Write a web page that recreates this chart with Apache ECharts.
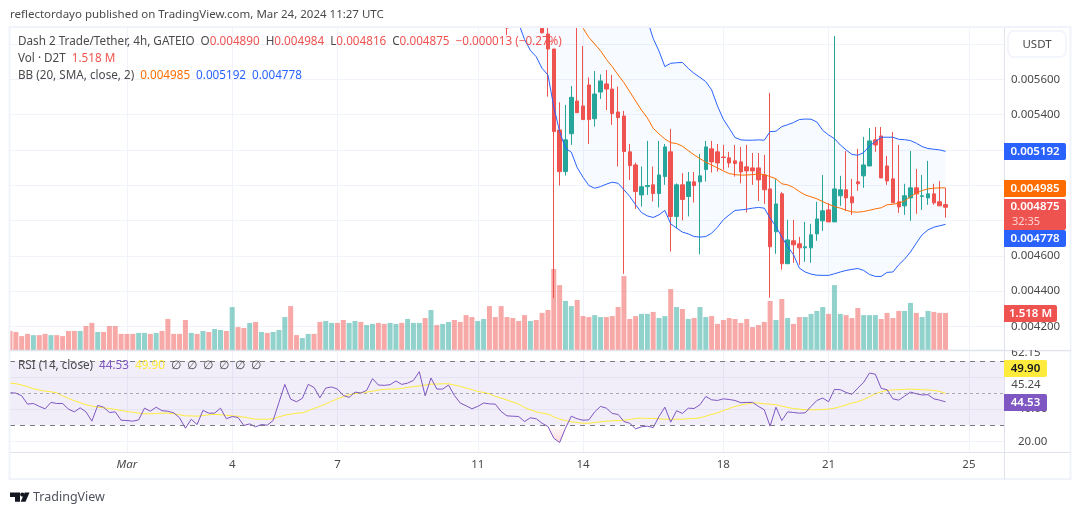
<!DOCTYPE html>
<html>
<head>
<meta charset="utf-8">
<style>
html,body{margin:0;padding:0;background:#fff;}
#chart{width:1080px;height:515px;}
</style>
<script src="https://cdn.jsdelivr.net/npm/echarts@6/dist/echarts.min.js"></script>
</head>
<body>
<div id="chart"></div>
<script>
// 4h bars, index 0 = Feb 26 16:00. prices are in 1e-6 USDT, volume in millions
var barCount = 171;
var tickIndex = [20, 38, 56, 80, 98, 122, 140, 164];
var tickLabels = ['{m|Mar}', '4', '7', '11', '14', '18', '21', '25'];
var priceTicks = [5800, 5600, 5400, 5200, 5000, 4800, 4600, 4400, 4200];
var priceLabels = [5600, 5400, 4600, 4400, 4200];
var rsiTicks = [60, 40, 20];
var rsiLevels = [70, 50, 30];

// candles that are inside the visible price range start at bar 85, highs cut at the pane top
var candleStart = 85;
var open = [
  5892, null, null, null, null, null, 5890, 5857, 5772, 5313,
  5077, 5292, 5477, 5449, 5568, 5377, 5528, 5574, 5545, 5415,
  5392, 5189, 5115, 4945, 4992, 5002, 4953, 5049, 5189, 4823,
  5002, 4936, 5019, 5019, 5089, 5206, 5189, 5160, 5155, 5138,
  5132, 5104, 5098, 5098, 5058, 4979, 4736, 4951, 4555, 4685,
  4668, 4645, 4645, 4724, 4798, 4860, 4792, 4940, 4974, 4934,
  5019, 5053, 5109, 5257, 5279, 5109, 5036, 4906, 4883, 4928,
  4985, 4936, 4928, 4951, 4906, 4890
];
var close = [
  5892, null, null, null, null, null, 5864, 5772, 5304, 5077,
  5257, 5498, 5411, 5372, 5372, 5517, 5591, 5545, 5406, 5383,
  5191, 5111, 4964, 4991, 4998, 4953, 5058, 5217, 4823, 5002,
  4919, 5019, 4998, 5053, 5217, 5132, 5126, 5157, 5126, 5123,
  5075, 5081, 5081, 5030, 4974, 4651, 4894, 4555, 4690, 4662,
  4645, 4651, 4719, 4809, 4855, 4792, 4979, 4974, 4928, 4900,
  5008, 5115, 5251, 5228, 5041, 5024, 4900, 4877, 4940, 4985,
  4951, 4940, 4951, 4900, 4883, 4875
];
var low = [
  5851, null, null, null, null, null, 5860, 5502, 4360, 4998,
  5055, 5228, 5411, 5372, 5234, 5332, 5489, 5426, 5342, 5106,
  4498, 5030, 4866, 4879, 4945, 4908, 4874, 5002, 4624, 4755,
  4800, 4823, 4902, 4608, 5021, 5072, 5077, 5087, 5100, 5049,
  5011, 4845, 5002, 4911, 4894, 4362, 4611, 4521, 4555, 4560,
  4549, 4566, 4560, 4685, 4741, 4792, 4792, 4883, 4855, 4832,
  4968, 4985, 5109, 5189, 5041, 5002, 4900, 4843, 4832, 4798,
  4838, 4860, 4889, 4889, 4883, 4816
];
var high = [
  5892, null, null, null, null, null, 5892, 5892, 5772, 5470,
  5455, 5562, 5892, 5789, 5611, 5647, 5628, 5653, 5625, 5559,
  5421, 5234, 5128, 5106, 5251, 5106, 5251, 5234, 5319, 5010,
  5068, 5075, 5075, 5177, 5251, 5251, 5234, 5228, 5189, 5228,
  5217, 5228, 5183, 5183, 5172, 5523, 5034, 4962, 4804, 4804,
  4707, 4792, 4781, 4906, 5058, 4898, 5845, 5053, 5194, 5036,
  5206, 5274, 5324, 5330, 5330, 5166, 5302, 5228, 5008, 5194,
  5092, 5058, 5138, 5008, 5024, 4984
];

// bollinger bands, first values are above the visible range
var bandStart = 87;
var bbUpper = [
  6620, 6590, 6570, 6530, 6510, 6480, 6460, 6430, 6400, 6370, 6350,
  6310, 6280, 6250, 6220, 6190, 6150, 6120, 6090, 6060, 6020, 5980, 5936,
  5832, 5760, 5672, 5691, 5694, 5696, 5662, 5634, 5611, 5587,
  5540, 5449, 5374, 5323, 5270, 5257, 5255, 5255, 5257, 5255,
  5304, 5306, 5332, 5343, 5355, 5372, 5375, 5374, 5358, 5311,
  5285, 5264, 5228, 5200, 5174, 5170, 5185, 5223, 5247, 5272,
  5272, 5272, 5260, 5258, 5253, 5238, 5219, 5208, 5204, 5200, 5192
];
var bbLower = [
  5917, 5826, 5764, 5728, 5662, 5625, 5445, 5304, 5209, 5187,
  5100, 5045, 4998, 4983, 4992, 5006, 5017, 5011, 4974, 4936,
  4889, 4845, 4826, 4817, 4832, 4857, 4781, 4757, 4734, 4724,
  4709, 4706, 4709, 4728, 4762, 4804, 4832, 4857, 4860, 4864,
  4870, 4874, 4870, 4813, 4766, 4706, 4653, 4606, 4530, 4508,
  4496, 4490, 4489, 4489, 4498, 4508, 4517, 4523, 4528, 4517,
  4494, 4483, 4483, 4506, 4508, 4549, 4581, 4621, 4672, 4719,
  4747, 4762, 4770, 4778
];
var basisStart = 98;
var bbBasis = [
  5890, 5838, 5800, 5762, 5713, 5672, 5625, 5581, 5530, 5477,
  5426, 5381, 5323, 5291, 5262, 5241, 5236, 5221, 5196, 5172,
  5151, 5130, 5115, 5098, 5081, 5066, 5060, 5057, 5058, 5060,
  5064, 5060, 5049, 5036, 5008, 5002, 4987, 4964, 4945, 4934,
  4923, 4907, 4892, 4879, 4870, 4858, 4849, 4847, 4851, 4858,
  4866, 4872, 4889, 4892, 4898, 4911, 4936, 4955, 4970, 4979,
  4983, 4985, 4985
];

var volume = [
  0.78, 0.74, 0.57, 0.66, 0.61, 0.61, 0.66, 0.61, 0.61, 0.57,
  0.78, 0.78, 0.78, 0.98, 1.11, 0.74, 0.74, 0.98, 0.98, 0.66,
  0.66, 0.66, 0.70, 0.70, 0.66, 0.70, 0.78, 1.27, 0.66, 0.66,
  1.23, 0.70, 0.66, 0.78, 0.74, 0.86, 0.82, 0.78, 1.76, 0.94,
  0.90, 1.11, 1.15, 0.74, 0.70, 0.74, 0.82, 1.35, 1.80, 0.61,
  0.49, 0.66, 0.66, 1.15, 1.19, 1.11, 1.11, 1.23, 1.11, 1.19,
  1.15, 1.02, 1.07, 1.11, 1.07, 1.11, 1.07, 1.11, 1.27, 1.11,
  1.11, 1.31, 1.64, 1.02, 1.07, 1.15, 1.23, 1.15, 1.43, 1.35,
  1.19, 1.27, 1.80, 1.35, 1.80, 1.35, 1.31, 1.19, 1.43, 1.19,
  1.23, 1.52, 1.64, 3.32, 2.66, 2.01, 1.80, 2.05, 1.39, 1.35,
  1.43, 1.35, 1.35, 1.39, 1.76, 3.03, 1.27, 1.39, 1.48, 1.48,
  1.56, 1.31, 1.39, 2.50, 1.76, 1.68, 1.27, 1.31, 1.76, 1.35,
  1.39, 1.07, 1.23, 1.31, 1.27, 1.11, 1.27, 0.94, 1.02, 1.15,
  2.01, 1.23, 2.09, 1.31, 1.07, 1.35, 1.35, 1.48, 1.60, 1.76,
  1.48, 2.66, 1.48, 1.43, 1.31, 1.72, 1.43, 1.43, 1.43, 1.27,
  1.52, 1.31, 1.60, 1.60, 1.93, 1.52, 1.35, 1.60, 1.56, 1.52,
  1.518
];
// 1 = up bar, 0 = down bar
var volumeUp = [
  0, 0, 0, 0, 1, 0, 0, 1, 0, 0,
  0, 0, 1, 0, 0, 1, 0, 0, 0, 0,
  0, 0, 1, 1, 0, 1, 0, 0, 0, 0,
  0, 1, 0, 1, 0, 1, 1, 0, 1, 0,
  0, 1, 0, 1, 0, 1, 1, 1, 0, 0,
  1, 1, 0, 0, 1, 1, 0, 0, 1, 1,
  0, 1, 1, 0, 0, 1, 1, 0, 1, 1,
  1, 0, 1, 0, 1, 1, 0, 0, 0, 0,
  1, 1, 0, 0, 0, 0, 0, 0, 0, 1,
  0, 0, 0, 0, 0, 1, 1, 0, 0, 0,
  1, 1, 0, 0, 0, 0, 0, 0, 1, 1,
  0, 1, 1, 0, 1, 0, 1, 0, 1, 1,
  0, 0, 0, 0, 0, 0, 0, 0, 0, 0,
  0, 1, 0, 1, 0, 0, 1, 1, 1, 1,
  0, 1, 1, 0, 0, 0, 1, 1, 1, 0,
  0, 0, 0, 1, 1, 0, 1, 1, 0, 0,
  0
];

var rsi = [
  50.2, 50, 48.3, 43.1, 43.5, 41.7, 40.2, 44.2, 43.5, 43.5,
  40, 38.3, 40.8, 38.3, 32.5, 42.3, 41.2, 37.9, 38.3, 33.1,
  32.9, 32.5, 33.3, 40.6, 38.7, 41.2, 39, 38.7, 37.7, 34.6,
  28.1, 33.7, 30.4, 39.2, 37.5, 37.5, 40.6, 34, 35.4, 34.8,
  29.8, 30.8, 29, 30.4, 30, 32.9, 44.2, 55.4, 46.2, 44.6,
  46.7, 55.4, 53.5, 47.1, 53.1, 53.8, 52.5, 48.5, 47.3, 50.6,
  50, 51.7, 59, 55, 54.8, 55.2, 57.5, 55.4, 56.2, 57.9,
  63.3, 48.3, 59.4, 52.5, 52.5, 55, 48.5, 43.8, 42.1, 40.2,
  41.7, 43.8, 43.3, 43.1, 38.5, 35.8, 35.6, 35.4, 32.3, 34.6,
  34, 31.2, 29.2, 21.9, 19.2, 28.1, 35.6, 34, 33.1, 33.3,
  38.3, 41.7, 40.6, 37.3, 36.7, 32.3, 31.2, 27.7, 29, 29.4,
  28.5, 35.4, 41.2, 31.9, 39, 37.3, 40.6, 40.4, 42.7, 47.9,
  45.8, 45.4, 46.4, 46, 45.4, 44, 44.2, 44.2, 41.7, 39.6,
  29.4, 41.2, 32.9, 38.3, 37.9, 37.5, 37.7, 41.7, 45.4, 46.9,
  44.6, 52.3, 52.1, 50.4, 49.2, 53.1, 56.7, 62.5, 61.7, 52.9,
  52.1, 46.4, 45.6, 48.1, 50.6, 49.6, 48.8, 49, 46.4, 45.6,
  44.53
];
var rsiMa = [
  56.2, 55.8, 55, 54, 52.7, 51.9, 51.2, 50.8, 50.2, 48.3,
  46.7, 45.2, 44, 42.7, 41.9, 41.2, 40.8, 40.4, 39.8, 39.2,
  38.5, 38.1, 37.5, 37.1, 37.1, 37.3, 37.5, 37.5, 37.1, 36.5,
  35.8, 35.8, 35.6, 36, 36.5, 36.7, 36.5, 36.2, 35.8, 35.6,
  35, 34.4, 33.7, 33.7, 33.7, 34, 35.2, 36.2, 36.9, 37.5,
  37.7, 39, 40.4, 41.7, 43.3, 44.8, 46.4, 47.7, 49, 49.6,
  50.2, 50.6, 51.2, 51.9, 52.3, 52.5, 52.5, 52.9, 53.5, 54,
  54.4, 55, 55.6, 55.6, 55.8, 55.8, 55, 54.2, 53.1, 52.1,
  51, 50.4, 49.6, 47.9, 46.9, 45.6, 44.4, 43.1, 41, 39.6,
  38.3, 37.5, 36.9, 35.2, 33.7, 32.9, 32.1, 31.7, 31.2, 31.2,
  31.7, 32.1, 32.5, 32.7, 32.9, 33.1, 33.5, 34.2, 34.4, 34.2,
  34.2, 34, 33.7, 33.7, 33.7, 33.7, 34, 34.2, 34.6, 35.6,
  36.7, 37.7, 39, 40.4, 41.7, 42.5, 43.3, 43.8, 43.8, 43.3,
  43.1, 42.7, 41.9, 41, 40.4, 40, 39.6, 39.6, 39.6, 39.8,
  40, 40.6, 41.5, 42.7, 43.8, 44.6, 46, 47.7, 49.6, 50.8,
  51.7, 51.9, 52.1, 52.3, 52.5, 52.3, 52.1, 51.9, 51.7, 51,
  49.9
];

var UP = '#26a69a', DOWN = '#ef5350', BLUE = '#2962ff', ORANGE = '#ff6d00';
var PURPLE = '#7e57c2', YELLOW = '#ffeb3b', GRID = '#f0f3fa', EDGE = '#e0e3eb', INK = '#4a4a4a';
var FONT = '"Noto Sans", sans-serif';
var SIZE = 11.5;

function pad(values, start) {
  return new Array(start).fill('-').concat(values);
}

var categories = [];
for (var n = 0; n < barCount; n++) categories.push(String(n));

var candleData = pad(open.map(function (o, i) {
  return o === null ? ['-', '-', '-', '-'] : [o, close[i], low[i], high[i]];
}), candleStart);

var volumeData = volume.map(function (v, i) {
  return { value: v, itemStyle: { color: volumeUp[i] ? 'rgba(38,166,154,0.5)' : 'rgba(239,83,80,0.5)' } };
});

var bandWidth = bbUpper.map(function (u, i) { return u - bbLower[i]; });
var oversold = rsi.map(function (v) { return Math.min(v, 30); });

function isTick(i) { return tickIndex.indexOf(i) >= 0; }

var xBase = {
  type: 'category',
  data: categories,
  boundaryGap: false,
  axisLine: { show: false },
  axisTick: { show: false },
  axisLabel: { show: false },
  splitLine: { show: true, interval: function (i) { return isTick(i); }, lineStyle: { color: GRID, width: 1 } }
};

function txt(text, x, y, opt) {
  opt = opt || {};
  return {
    type: 'text', z: opt.z || 100, silent: true,
    style: {
      text: text, x: x, y: y, fill: opt.fill || INK,
      font: (opt.weight || 'normal') + ' ' + (opt.size || SIZE) + 'px ' + FONT,
      align: opt.align || 'left', verticalAlign: 'middle', rich: opt.rich
    }
  };
}

function box(x, y, w, h, fill, radius, z) {
  return { type: 'rect', z: z || 99, silent: true, shape: { x: x, y: y, width: w, height: h, r: radius || 0 }, style: { fill: fill } };
}

function chip(text, y, h, fill, w, color) {
  return [
    box(1004, y, w || 62, h, fill, [0, 2, 2, 0]),
    txt(text, 1004 + (w || 62) / 2, y + 8.5, { fill: color || '#fff', weight: 600, align: 'center' })
  ];
}

function hline(x1, x2, y, color, width) {
  return { type: 'line', z: 90, silent: true, shape: { x1: x1, y1: y, x2: x2, y2: y }, style: { stroke: color, lineWidth: width || 1 } };
}

var legendFont = '11.7px ' + FONT;
var richLegend = {
  d: { fill: INK, font: legendFont },
  r: { fill: DOWN, font: legendFont },
  o: { fill: ORANGE, font: legendFont },
  b: { fill: BLUE, font: legendFont },
  p: { fill: PURPLE, font: legendFont },
  y: { fill: YELLOW, font: legendFont }
};

var chrome = [
  txt('reflectordayo published on TradingView.com, Mar 24, 2024 11:27 UTC', 10, 15),
  // frame and pane separators
  box(0, 262, 9, 90, '#fff', 0, 80),
  { type: 'rect', z: 90, silent: true, shape: { x: 9.5, y: 27, width: 1061, height: 452 }, style: { fill: 'none', stroke: GRID, lineWidth: 2 } },
  box(1006, 342, 64, 8, '#fff', 0, 92),
  txt('62.15', 1026, 352.5, { align: 'center', z: 91 }),
  hline(10, 1071, 350.5, EDGE, 1.5),
  hline(10, 1071, 452.5, EDGE, 1),
  { type: 'line', z: 90, silent: true, shape: { x1: 1004.5, y1: 28, x2: 1004.5, y2: 479 }, style: { stroke: EDGE, lineWidth: 1 } },
  // legends
  txt('{d|Dash 2 Trade/Tether, 4h, GATEIO}  {d|O}{r|0.004890}  {d|H}{r|0.004984}  {d|L}{r|0.004816}  {d|C}{r|0.004875}  {r|\u22120.000013 (\u22120.27%)}', 18, 42, { rich: richLegend }),
  txt('{d|Vol \u00b7 D2T}  {r|1.518 M}', 18, 59, { rich: richLegend }),
  txt('{d|BB (20, SMA, close, 2)}  {o|0.004985}  {b|0.005192}  {b|0.004778}', 18, 76, { rich: richLegend }),
  txt('{d|RSI (14, close)}  {p|44.53}  {y|49.90}  {d|\u2205  \u2205  \u2205  \u2205  \u2205  \u2205}', 18, 366, { rich: richLegend }),
  // currency button
  { type: 'rect', z: 99, silent: true, shape: { x: 1008, y: 31, width: 58, height: 26, r: 6 }, style: { fill: '#fff', stroke: GRID, lineWidth: 1.5 } },
  txt('USDT', 1037, 44.5, { align: 'center' }),
  txt('45.24', 1026, 385, { align: 'center' }),
  // TradingView mark
  { type: 'polygon', silent: true, shape: { points: [[10, 492.5], [20, 492.5], [20, 501.7], [15, 501.7], [15, 497], [10, 497]] }, style: { fill: '#131722' } },
  { type: 'circle', silent: true, shape: { cx: 22.3, cy: 494.6, r: 2.1 }, style: { fill: '#131722' } },
  { type: 'polygon', silent: true, shape: { points: [[29.5, 492.5], [25.5, 501.7], [20.7, 501.7], [24.7, 492.5]] }, style: { fill: '#131722' } },
  txt('TradingView', 33, 497, { size: 12.5, fill: '#50535e' })
].concat(
  chip('0.005192', 143, 17, BLUE),
  chip('0.004985', 180, 17, ORANGE),
  [box(1004, 199, 62, 31, DOWN, [0, 2, 2, 0]),
   txt('0.004875', 1035, 207, { fill: '#fff', weight: 600, align: 'center' }),
   txt('32:35', 1012, 222, { fill: 'rgba(255,255,255,0.75)', size: 11 })],
  chip('0.004778', 230, 17, BLUE),
  chip('1.518 M', 305, 17, DOWN, 53),
  chip('49.90', 360, 17, YELLOW, 43, '#131722'),
  chip('44.53', 394, 17, PURPLE, 43)
);

var chart = echarts.init(document.getElementById('chart'));
chart.setOption({
  animation: false,
  backgroundColor: '#fff',
  textStyle: { fontFamily: FONT },
  grid: [
    { left: 10, width: 994, top: 28, height: 322 },
    { left: 10, width: 994, top: 250, height: 100 },
    { left: 10, width: 994, top: 351, height: 101 }
  ],
  xAxis: [
    Object.assign({}, xBase, { gridIndex: 0 }),
    Object.assign({}, xBase, { gridIndex: 1, splitLine: { show: false } }),
    Object.assign({}, xBase, {
      gridIndex: 2,
      axisLabel: {
        show: true, interval: function (i) { return isTick(i); }, margin: 7,
        color: INK, fontSize: SIZE, fontFamily: FONT,
        formatter: function (v, i) { return tickLabels[tickIndex.indexOf(i)] || ''; },
        rich: { m: { fontStyle: 'italic', color: INK, fontSize: SIZE, fontFamily: FONT } }
      }
    })
  ],
  yAxis: [
    {
      gridIndex: 0, type: 'value', position: 'right', min: 4066, max: 5891, scale: true,
      axisLine: { show: false },
      axisTick: { show: false, customValues: priceTicks },
      axisLabel: {
        customValues: priceLabels, margin: 7, color: INK, fontSize: SIZE, fontFamily: FONT,
        formatter: function (v) { return (v / 1e6).toFixed(6); }
      },
      splitLine: { show: true, lineStyle: { color: GRID, width: 1 } }
    },
    {
      gridIndex: 1, type: 'value', min: 0, max: 4.098,
      axisLine: { show: false }, axisTick: { show: false }, axisLabel: { show: false }, splitLine: { show: false }
    },
    {
      gridIndex: 2, type: 'value', position: 'right', min: 13.3, max: 76.2, scale: true,
      axisLine: { show: false },
      axisTick: { show: false, customValues: rsiTicks },
      axisLabel: {
        customValues: rsiTicks.slice(1), margin: 14, color: INK, fontSize: SIZE, fontFamily: FONT,
        formatter: function (v) { return v.toFixed(2); }
      },
      splitLine: { show: true, lineStyle: { color: GRID, width: 1 } }
    }
  ],
  series: [
    {
      name: 'Volume', type: 'bar', xAxisIndex: 1, yAxisIndex: 1, data: volumeData,
      barWidth: 5, z: 1, silent: true, clip: true
    },
    {
      name: 'BB base', type: 'line', xAxisIndex: 0, yAxisIndex: 0, stack: 'bb',
      data: pad(bbLower, bandStart), symbol: 'none', lineStyle: { opacity: 0 }, z: 2, silent: true
    },
    {
      name: 'BB fill', type: 'line', xAxisIndex: 0, yAxisIndex: 0, stack: 'bb',
      data: pad(bandWidth, bandStart), symbol: 'none', lineStyle: { opacity: 0 },
      areaStyle: { color: 'rgba(33,150,243,0.05)' }, z: 2, silent: true
    },
    {
      name: 'Price', type: 'candlestick', xAxisIndex: 0, yAxisIndex: 0, data: candleData,
      barWidth: 4, z: 3, silent: true, clip: true,
      itemStyle: { color: UP, color0: DOWN, borderColor: UP, borderColor0: DOWN, borderWidth: 1 }
    },
    {
      name: 'BB upper', type: 'line', xAxisIndex: 0, yAxisIndex: 0, data: pad(bbUpper, bandStart),
      symbol: 'none', lineStyle: { color: BLUE, width: 1 }, z: 4, silent: true
    },
    {
      name: 'BB lower', type: 'line', xAxisIndex: 0, yAxisIndex: 0, data: pad(bbLower, bandStart),
      symbol: 'none', lineStyle: { color: BLUE, width: 1 }, z: 4, silent: true
    },
    {
      name: 'BB basis', type: 'line', xAxisIndex: 0, yAxisIndex: 0, data: pad(bbBasis, basisStart),
      symbol: 'none', lineStyle: { color: ORANGE, width: 1 }, z: 4, silent: true
    },
    {
      name: 'Oversold', type: 'line', xAxisIndex: 2, yAxisIndex: 2, data: oversold,
      symbol: 'none', lineStyle: { opacity: 0 }, z: 2, silent: true,
      areaStyle: {
        origin: 30,
        color: new echarts.graphic.LinearGradient(0, 0, 0, 1, [
          { offset: 0, color: 'rgba(242,54,69,0.02)' },
          { offset: 1, color: 'rgba(242,54,69,0.28)' }
        ])
      }
    },
    {
      name: 'RSI', type: 'line', xAxisIndex: 2, yAxisIndex: 2, data: rsi,
      symbol: 'none', lineStyle: { color: PURPLE, width: 1 }, z: 4, silent: true,
      markArea: {
        silent: true, itemStyle: { color: 'rgba(126,87,194,0.1)' },
        data: [[{ yAxis: rsiLevels[2] }, { yAxis: rsiLevels[0] }]]
      },
      markLine: {
        silent: true, symbol: 'none', label: { show: false },
        data: rsiLevels.map(function (v) {
          return { yAxis: v, lineStyle: { color: '#787b86', width: 1, type: v === 50 ? [3, 3] : [5, 5], opacity: v === 50 ? 0.6 : 1 } };
        })
      }
    },
    {
      name: 'RSI MA', type: 'line', xAxisIndex: 2, yAxisIndex: 2, data: rsiMa,
      symbol: 'none', lineStyle: { color: YELLOW, width: 1 }, z: 3, silent: true
    }
  ],
  graphic: chrome
});
</script>
</body>
</html>
